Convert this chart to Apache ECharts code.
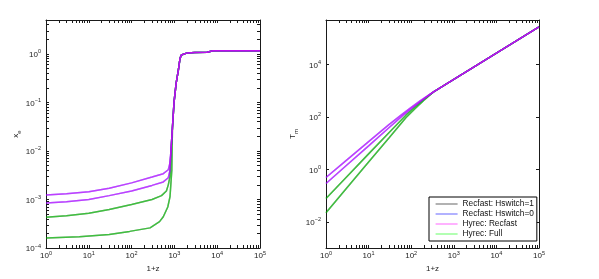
<!DOCTYPE html>
<html><head><meta charset="utf-8">
<script src="https://cdn.jsdelivr.net/npm/echarts@6/dist/echarts.min.js"></script>
<style>html,body{margin:0;padding:0;background:#fff}#c{width:599px;height:279px}</style>
</head><body><div id="c"></div><script>
// ---- legend / series ----
const seriesNames = ['Recfast: Hswitch=1', 'Recfast: Hswitch=0', 'Hyrec: Recfast', 'Hyrec: Full'];
const seriesColors = ['rgba(0,0,0,0.5)', 'rgba(0,0,255,0.5)', 'rgba(255,0,255,0.5)', 'rgba(0,255,0,0.5)'];

// ---- tick labels ----
const xTickLabels = [1, 10, 100, 1e3, 1e4, 1e5];
const xeTickLabels = [1e-4, 1e-3, 1e-2, 1e-1, 1];
const tmTickLabels = [1e-2, 1, 1e2, 1e4];

// ---- left panel: x_e vs 1+z ----
const xeTailZ = [830, 900, 980, 1100, 1240, 1350, 1450, 1600, 2000, 3000, 5800, 6300, 8000, 100000];
const xeTailV = [0.01, 0.03, 0.1, 0.25, 0.47, 0.8, 0.95, 1.02, 1.05, 1.07, 1.08, 1.15, 1.16, 1.16];
const xeAZ = [1, 3, 10, 30, 100, 300, 550, 720, 780];
const xeAV = [1.24e-3, 1.32e-3, 1.45e-3, 1.7e-3, 2.2e-3, 2.9e-3, 3.4e-3, 4.1e-3, 5.5e-3];
const xeBZ = [1, 3, 10, 30, 100, 300, 550, 720, 790];
const xeBV = [8.5e-4, 9.0e-4, 1.0e-3, 1.2e-3, 1.5e-3, 1.95e-3, 2.3e-3, 2.8e-3, 4.0e-3];
const xeCZ = [1, 3, 10, 30, 100, 300, 500, 650, 720, 790];
const xeCV = [4.3e-4, 4.6e-4, 5.2e-4, 6.2e-4, 7.9e-4, 1.0e-3, 1.2e-3, 1.5e-3, 2.0e-3, 3.0e-3];
const xeDZ = [1, 6, 30, 90, 270, 450, 550, 700, 790, 870];
const xeDV = [1.6e-4, 1.7e-4, 1.9e-4, 2.2e-4, 2.6e-4, 3.5e-4, 4.4e-4, 7e-4, 1.15e-3, 4e-3];

// ---- right panel: T_m vs 1+z ----
const tmTailZ = [350, 1000, 10000, 100000];
const tmTailV = [954, 2725, 27260, 272550];
const tmP1Z = [1, 3, 10, 30, 63, 100, 158, 300];
const tmP1V = [0.49, 2.19, 11.5, 51, 132, 234, 398, 804];
const tmP2Z = [1, 3, 10, 30, 63, 100, 158, 300];
const tmP2V = [0.29, 1.41, 7.9, 38.9, 112, 209, 363, 794];
const tmG1Z = [1, 3, 10, 30, 75, 126, 200, 300];
const tmG1V = [0.078, 0.50, 3.9, 25, 117, 251, 479, 794];
const tmG2Z = [1, 3, 10, 30, 75, 126, 200, 300];
const tmG2V = [0.022, 0.186, 1.9, 15.8, 93, 214, 437, 776];

function join(z, v, tz, tv) {
  const out = z.map((x, i) => [x, v[i]]);
  const last = z[z.length - 1];
  tz.forEach((x, i) => { if (x > last) out.push([x, tv[i]]); });
  return out;
}
function logTicks(lo, hi, withMinor) {
  const t = [];
  for (let e = lo; e <= hi; e++) {
    const b = Math.pow(10, e);
    t.push(b);
    if (withMinor) for (let m = 2; m <= 9; m++) t.push(m * b);
  }
  return t;
}
const FONT = 'Liberation Sans';
const AX = '#1a1a1a';
const rich = {
  b: { fontSize: 8, fontFamily: FONT, color: '#222', lineHeight: 10, verticalAlign: 'bottom' },
  s: { fontSize: 5.5, fontFamily: FONT, color: '#222', lineHeight: 10, verticalAlign: 'top' }
};
function fmt(v) {
  const e = Math.round(Math.log10(v));
  return '{b|10}{s|' + (e < 0 ? '\u2212' + (-e) : e) + '}';
}
const xTicks = logTicks(0, 5, true);
const xeTicks = logTicks(-4, 0, true).filter(v => v <= 5);
const tmTicks = tmTickLabels;

function xAxes(g) {
  const common = { type: 'log', gridIndex: g, min: 1, max: 1e5, splitLine: { show: false },
    axisLine: { show: true, lineStyle: { color: AX, width: 1 } },
    axisTick: { show: true, inside: true, length: 3, customValues: xTicks, lineStyle: { color: AX, width: 1 } } };
  return [
    Object.assign({}, common, { position: 'bottom',
      axisLabel: { customValues: xTickLabels, formatter: fmt, rich: rich, margin: 2 },
      name: '1+z', nameLocation: 'middle', nameGap: 15,
      nameTextStyle: { fontSize: 8, fontFamily: FONT, color: '#222' } }),
    Object.assign({}, common, { position: 'top', axisLabel: { show: false } })
  ];
}
function yAxes(g, min, max, ticks, labels, name, gap) {
  const common = { type: 'log', gridIndex: g, min: min, max: max, splitLine: { show: false },
    axisLine: { show: true, lineStyle: { color: AX, width: 1 } },
    axisTick: { show: true, inside: true, length: 3, customValues: ticks, lineStyle: { color: AX, width: 1 } } };
  return [
    Object.assign({}, common, { position: 'left',
      axisLabel: { customValues: labels, formatter: fmt, rich: rich, margin: 5 },
      name: name, nameLocation: 'middle', nameGap: gap, nameRotate: 90,
      nameTextStyle: { fontSize: 8, fontFamily: FONT, color: '#222',
        rich: { sub: { fontSize: 6, fontFamily: FONT, color: '#222', verticalAlign: 'bottom', lineHeight: 12 } } } }),
    Object.assign({}, common, { position: 'right', axisLabel: { show: false } })
  ];
}

const series = [];
function add(nameIdx, grid, data) {
  series.push({
    type: 'line', name: seriesNames[nameIdx], xAxisIndex: grid * 2, yAxisIndex: grid * 2,
    data: data, symbol: 'none', smooth: false,
    lineStyle: { color: seriesColors[nameIdx], width: 1.5 }, itemStyle: { color: seriesColors[nameIdx] },
    animation: false
  });
}
// drawing order: gray, green, blue, magenta
const order = [0, 3, 1, 2];
order.forEach(k => {
  if (k === 0 || k === 3) {
    add(k, 0, join(xeCZ, xeCV, xeTailZ, xeTailV));
    add(k, 0, join(xeDZ, xeDV, xeTailZ, xeTailV));
    add(k, 1, join(tmG1Z, tmG1V, tmTailZ, tmTailV));
    add(k, 1, join(tmG2Z, tmG2V, tmTailZ, tmTailV));
  } else {
    add(k, 0, join(xeAZ, xeAV, xeTailZ, xeTailV));
    add(k, 0, join(xeBZ, xeBV, xeTailZ, xeTailV));
    add(k, 1, join(tmP1Z, tmP1V, tmTailZ, tmTailV));
    add(k, 1, join(tmP2Z, tmP2V, tmTailZ, tmTailV));
  }
});

const option = {
  backgroundColor: '#fff',
  animation: false,
  grid: [
    { left: 46, top: 20, width: 214, height: 228 },
    { left: 326, top: 20, width: 213, height: 228 }
  ],
  xAxis: xAxes(0).concat(xAxes(1)),
  yAxis: yAxes(0, 1e-4, 5, xeTicks, xeTickLabels, 'x{sub|e}', 24)
    .concat(yAxes(1, 1e-3, 5e5, tmTicks, tmTickLabels, 'T{sub|m}', 27)),
  legend: {
    data: seriesNames, left: 429, top: 197, orient: 'vertical',
    itemWidth: 22, itemHeight: 9, itemGap: 2, padding: [3, 3, 3, 6],
    borderColor: '#000', borderWidth: 1, backgroundColor: '#fff',
    itemStyle: { opacity: 0 },
    lineStyle: { width: 1.2 },
    textStyle: { fontSize: 8.3, fontFamily: FONT, color: '#111' }
  },
  series: series
};
const chart = echarts.init(document.getElementById('c'), null, { renderer: 'canvas' });
chart.setOption(option);
</script></body></html>
